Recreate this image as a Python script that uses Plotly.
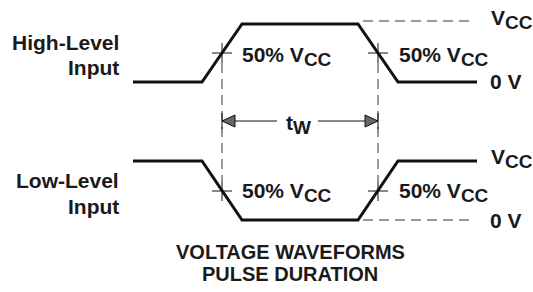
import plotly.graph_objects as go

# ---- diagram data (diagram coordinates: x = time axis, y = drawing level) ----
T_EDGES = [133, 202, 242, 358, 398, 477]          # waveform breakpoints
HIGH_INPUT = [82, 82, 24, 24, 82, 82]             # high-level input pulse
LOW_INPUT = [161, 161, 220, 220, 161, 161]        # low-level input pulse
T_50 = [222, 378]                                 # 50 % crossing times
Y_50_HIGH = 53                                    # 50 % level, high-level pulse
Y_50_LOW = 191                                    # 50 % level, low-level pulse
REF_VCC_Y = 21                                    # Vcc reference (dashed)
REF_0V_Y = 220                                    # 0 V reference (dashed)
REF_X = [363, 473]                                # extent of dashed references
TW_Y = 121                                        # pulse-width arrow level
TW_GAP = [277, 318]                               # gap for the tw label

FONT = "Liberation Sans, Arial, Helvetica, sans-serif"
TXT = "#1a1a1a"
SUB_CC = "<sub><span style='font-size:19px'>CC</span></sub>"
SUB_W = "<sub><span style='font-size:19px'>W</span></sub>"

fig = go.Figure()

# waveforms
for ys in (HIGH_INPUT, LOW_INPUT):
    fig.add_trace(go.Scatter(x=T_EDGES, y=ys, mode="lines",
                             line=dict(color="#111111", width=3),
                             hoverinfo="skip"))

# dashed reference lines
dx, dy = [], []
for yref in (REF_VCC_Y, REF_0V_Y):
    dx += [REF_X[0], REF_X[1], None]
    dy += [yref, yref, None]
for t in T_50:
    dx += [t, t, None]
    dy += [Y_50_HIGH + 10, Y_50_LOW - 10, None]
fig.add_trace(go.Scatter(x=dx, y=dy, mode="lines",
                         line=dict(color="#333333", width=1, dash="10px,6px"),
                         hoverinfo="skip"))

# crosses at 50 % points + arrow end ticks + arrow shaft
cx, cy = [], []
for t in T_50:
    for yc in (Y_50_HIGH, Y_50_LOW):
        cx += [t - 10, t + 10, None, t, t, None]
        cy += [yc, yc, None, yc - 10, yc + 10, None]
    cx += [t, t, None]
    cy += [TW_Y - 8, TW_Y + 8, None]
cx += [T_50[0], TW_GAP[0], None, TW_GAP[1], T_50[1], None]
cy += [TW_Y, TW_Y, None, TW_Y, TW_Y, None]
fig.add_trace(go.Scatter(x=cx, y=cy, mode="lines",
                         line=dict(color="#111111", width=1),
                         hoverinfo="skip"))

# arrow heads
for tip, base in ((T_50[0], T_50[0] + 13), (T_50[1], T_50[1] - 13)):
    fig.add_trace(go.Scatter(x=[tip, base, base, tip],
                             y=[TW_Y, TW_Y - 6, TW_Y + 6, TW_Y],
                             mode="lines", fill="toself", fillcolor="#666666",
                             line=dict(color="#111111", width=1),
                             hoverinfo="skip"))

def label(text, x, y, xa="left", size=21):
    fig.add_annotation(text=text, x=x, y=y, xref="x", yref="y",
                       xanchor=xa, yanchor="middle", showarrow=False,
                       font=dict(family=FONT, size=size, color=TXT, weight=700))

label("High-Level", 121, 42, "right")
label("Input", 121, 67, "right")
label("Low-Level", 121, 180, "right")
label("Input", 121, 206, "right")

for x0 in (240, 397):
    label("50% V" + SUB_CC, x0, 56)
    label("50% V" + SUB_CC, x0, 192)

label("V" + SUB_CC, 489, 19)
label("V" + SUB_CC, 489, 158)
label("0 V", 488, 81)
label("0 V", 488, 220)
label("t" + SUB_W, 284, 124)

label("VOLTAGE WAVEFORMS", 290, 252, "center", 20)
label("PULSE DURATION", 290, 274, "center", 20)

fig.update_layout(
    width=533, height=292,
    margin=dict(l=0, r=0, t=0, b=0),
    paper_bgcolor="white", plot_bgcolor="white",
    showlegend=False,
    xaxis=dict(range=[0, 533], visible=False, fixedrange=True),
    yaxis=dict(range=[292, 0], visible=False, fixedrange=True),
)

fig.write_html("out.html", post_script="document.body.style.margin='0';",
               config={"displayModeBar": False})
